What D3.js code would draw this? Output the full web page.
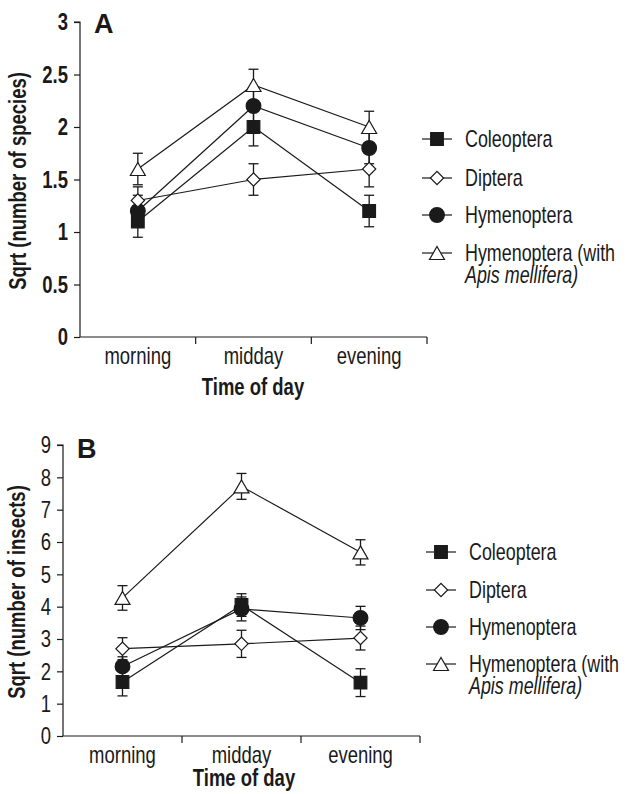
<!DOCTYPE html>
<html>
<head>
<meta charset="utf-8">
<script src="https://cdn.jsdelivr.net/npm/d3@7"></script>
<style>
  body { margin: 0; background: #fff; }
  svg text { font-family: 'Liberation Sans', Arial, sans-serif; fill: #1a1a1a; }
</style>
</head>
<body>
<div id="chart"></div>
<script>
const categories = ['morning', 'midday', 'evening'];
const seriesNames = ['Coleoptera', 'Diptera', 'Hymenoptera', 'Hymenoptera (with'];

// panel A: sqrt(number of species)
const aColeoptera = [1.1, 2.0, 1.2];
const aColeopteraErr = [0.15, 0.18, 0.15];
const aDiptera = [1.3, 1.5, 1.6];
const aDipteraErr = [0.13, 0.15, 0.17];
const aHymenoptera = [1.2, 2.2, 1.8];
const aHymenopteraErr = [0.15, 0.15, 0.15];
const aApis = [1.6, 2.4, 2.0];
const aApisErr = [0.15, 0.15, 0.15];
const aTicks = [0, 0.5, 1, 1.5, 2, 2.5, 3];

// panel B: sqrt(number of insects)
const bColeoptera = [1.67, 4.05, 1.65];
const bColeopteraErr = [0.43, 0.35, 0.43];
const bDiptera = [2.7, 2.85, 3.03];
const bDipteraErr = [0.34, 0.42, 0.37];
const bHymenoptera = [2.15, 3.93, 3.65];
const bHymenopteraErr = [0.3, 0.37, 0.36];
const bApis = [4.27, 7.72, 5.68];
const bApisErr = [0.38, 0.4, 0.39];
const bTicks = [0, 1, 2, 3, 4, 5, 6, 7, 8, 9];

const INK = '#1a1a1a';
const FS = 24;
const NARROW = 0.77;

const svg = d3.select('#chart').append('svg')
  .attr('width', 627)
  .attr('height', 794);

// squeeze text to look like the condensed face of the original
function narrow(sel, k) {
  sel.each(function() {
    const w = this.getComputedTextLength();
    d3.select(this).attr('textLength', w * (k || NARROW)).attr('lengthAdjust', 'spacingAndGlyphs');
  });
}

const markers = [
  { fill: INK, path: d3.symbol().type(d3.symbolSquare).size(160)(), rot: 0, dy: 0 },
  { fill: '#fff', path: d3.symbol().type(d3.symbolSquare).size(88)(), rot: 45, dy: 0 },
  { fill: INK, path: d3.symbol().type(d3.symbolCircle).size(170)(), rot: 0, dy: 0 },
  { fill: '#fff', path: d3.symbol().type(d3.symbolTriangle).size(97)(), rot: 0, dy: 2.2 }
];

function drawMarker(g, i, x, y) {
  const m = markers[i];
  g.append('path')
    .attr('d', m.path)
    .attr('transform', `translate(${x},${y + m.dy}) rotate(${m.rot})`)
    .attr('fill', m.fill)
    .attr('stroke', INK)
    .attr('stroke-width', 1.2);
}

function panel(cfg) {
  const g = svg.append('g');
  const x = d3.scaleBand().domain(categories).range([cfg.left, cfg.right]);
  const y = d3.scaleLinear().domain([0, cfg.max]).range([cfg.bottom, cfg.top]);

  // y axis
  const ay = g.append('g')
    .attr('transform', `translate(${cfg.left},0)`)
    .call(d3.axisLeft(y).tickValues(cfg.ticks).tickSize(6).tickPadding(6).tickFormat(d => d));
  ay.select('.domain').attr('stroke', INK).attr('stroke-width', 1.2).attr('d', `M-6,${y(cfg.max)}H0V${y(0)}`);
  ay.selectAll('.tick line').attr('stroke', INK).attr('stroke-width', 1.2);
  ay.selectAll('.tick text')
    .attr('font-size', FS)
    .attr('font-family', "'Liberation Sans', Arial, sans-serif")
    .attr('font-weight', cfg.boldTicks ? 'bold' : 'normal')
    .attr('fill', INK)
    .call(narrow);

  // x axis: line, boundary ticks, labels
  g.append('line')
    .attr('x1', cfg.left).attr('x2', cfg.right)
    .attr('y1', y(0)).attr('y2', y(0))
    .attr('stroke', INK).attr('stroke-width', 1.2);
  g.selectAll('.xtick').data(categories).join('line')
    .attr('class', 'xtick')
    .attr('x1', d => x(d) + x.bandwidth()).attr('x2', d => x(d) + x.bandwidth())
    .attr('y1', y(0)).attr('y2', y(0) + 7)
    .attr('stroke', INK).attr('stroke-width', 1.2);
  g.selectAll('.xlab').data(categories).join('text')
    .attr('class', 'xlab')
    .attr('x', d => x(d) + x.bandwidth() / 2)
    .attr('y', cfg.labelY)
    .attr('text-anchor', 'middle')
    .attr('font-size', FS)
    .text(d => d)
    .call(narrow);

  g.append('text')
    .attr('x', cfg.titleX).attr('y', cfg.titleY)
    .attr('text-anchor', 'middle')
    .attr('font-size', FS).attr('font-weight', 'bold')
    .text('Time of day')
    .call(narrow);

  g.append('text')
    .attr('transform', `translate(${cfg.yTitleX},${cfg.yTitleY}) rotate(-90)`)
    .attr('text-anchor', 'middle')
    .attr('dy', '0.35em')
    .attr('font-size', FS).attr('font-weight', 'bold')
    .text(cfg.yTitle)
    .call(narrow);

  g.append('text')
    .attr('x', cfg.letterX).attr('y', cfg.letterY)
    .attr('font-size', 27).attr('font-weight', 'bold')
    .text(cfg.letter);

  const cx = d => x(d) + x.bandwidth() / 2;

  // lines
  cfg.series.forEach(s => {
    g.append('path')
      .attr('d', d3.line().x((v, j) => cx(categories[j])).y(v => y(v))(s.values))
      .attr('fill', 'none').attr('stroke', INK).attr('stroke-width', 1.2);
  });

  // error bars
  cfg.series.forEach(s => {
    s.values.forEach((v, j) => {
      const px = cx(categories[j]);
      const lo = y(v - s.err[j]), hi = y(v + s.err[j]);
      g.append('line').attr('x1', px).attr('x2', px).attr('y1', lo).attr('y2', hi)
        .attr('stroke', INK).attr('stroke-width', 1.3);
      [lo, hi].forEach(yy => g.append('line')
        .attr('x1', px - 5).attr('x2', px + 5).attr('y1', yy).attr('y2', yy)
        .attr('stroke', INK).attr('stroke-width', 1.3));
    });
  });

  // markers
  [2, 0, 1, 3].forEach(i => {
    const s = cfg.series[i];
    s.values.forEach((v, j) => drawMarker(g, i, cx(categories[j]), y(v)));
  });

  // legend
  cfg.legendY.forEach((ly, i) => {
    g.append('line')
      .attr('x1', cfg.legendX - 15).attr('x2', cfg.legendX + 15)
      .attr('y1', ly).attr('y2', ly)
      .attr('stroke', INK).attr('stroke-width', 1.2);
    drawMarker(g, i, cfg.legendX, ly);
    g.append('text')
      .attr('x', cfg.legendTextX).attr('y', ly).attr('dy', '0.35em')
      .attr('font-size', FS)
      .text(seriesNames[i])
      .call(narrow, 0.745);
  });
  g.append('text')
    .attr('x', cfg.legendTextX).attr('y', cfg.legendY[3] + 22).attr('dy', '0.35em')
    .attr('font-size', FS).attr('font-style', 'italic')
    .text('Apis mellifera)')
    .call(narrow, 0.745);
}

panel({
  left: 80, right: 427, top: 22, bottom: 337, max: 3, ticks: aTicks, boldTicks: true,
  labelY: 364, titleX: 253, titleY: 395,
  yTitle: 'Sqrt (number of species)', yTitleX: 18, yTitleY: 181,
  letter: 'A', letterX: 94, letterY: 33,
  legendX: 437, legendTextX: 465, legendY: [139, 178, 215, 253],
  series: [
    { values: aColeoptera, err: aColeopteraErr },
    { values: aDiptera, err: aDipteraErr },
    { values: aHymenoptera, err: aHymenopteraErr },
    { values: aApis, err: aApisErr }
  ]
});

panel({
  left: 63, right: 420, top: 445, bottom: 736, max: 9, ticks: bTicks, boldTicks: false,
  labelY: 763, titleX: 244, titleY: 786,
  yTitle: 'Sqrt (number of insects)', yTitleX: 17, yTitleY: 592,
  letter: 'B', letterX: 77, letterY: 458,
  legendX: 441, legendTextX: 469, legendY: [552, 590, 627, 664],
  series: [
    { values: bColeoptera, err: bColeopteraErr },
    { values: bDiptera, err: bDipteraErr },
    { values: bHymenoptera, err: bHymenopteraErr },
    { values: bApis, err: bApisErr }
  ]
});
</script>
</body>
</html>
